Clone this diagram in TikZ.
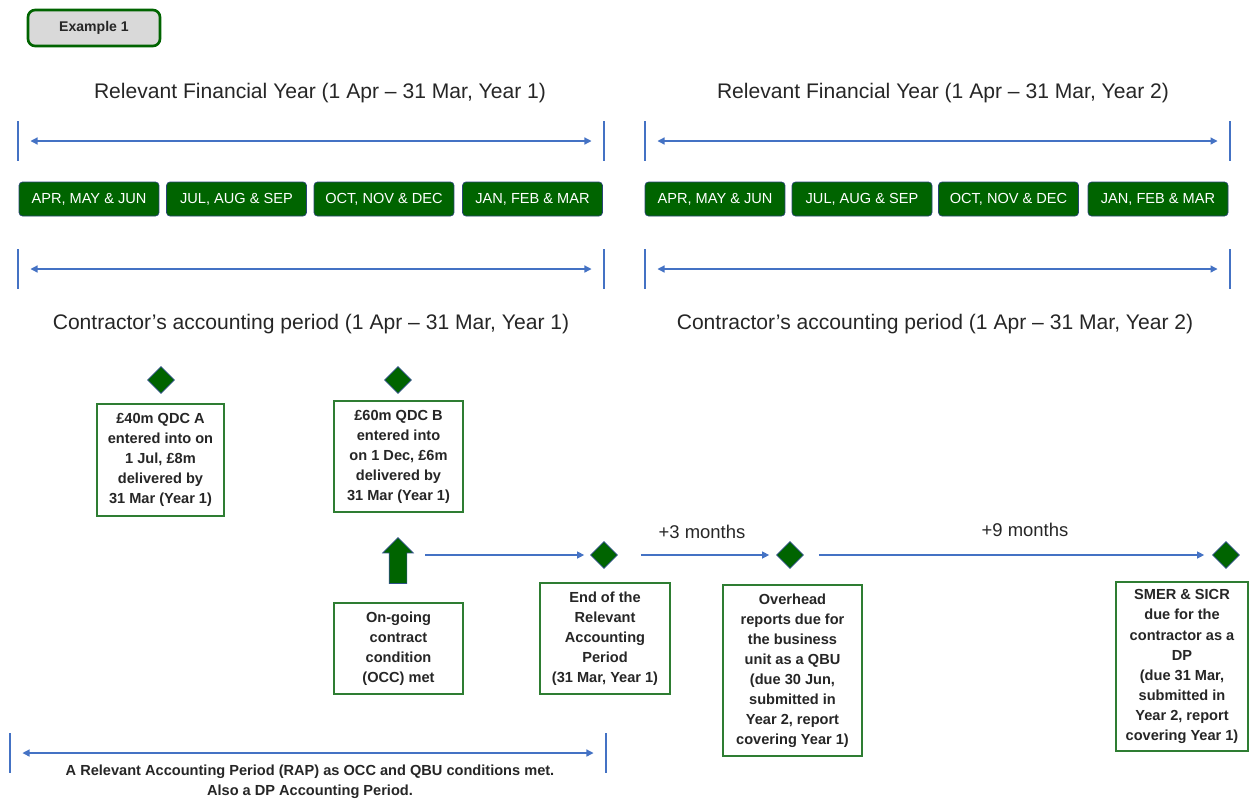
\documentclass[tikz,border=0pt]{standalone}
\usepackage{fontspec}
\setmainfont{Liberation Sans}
\usetikzlibrary{shapes.geometric,shapes.arrows,arrows.meta}

\definecolor{qdgreen}{RGB}{0,100,0}
\definecolor{edgegreen}{RGB}{46,125,50}
\definecolor{lineblue}{RGB}{68,114,196}
\definecolor{textgrey}{RGB}{38,38,38}
\definecolor{tabgrey}{RGB}{217,217,217}

\tikzset{
  heading/.style={text=textgrey, font=\fontsize{12}{14}\selectfont},
  monthbox/.style={draw=lineblue!60!black, fill=qdgreen, rounded corners=2pt, text=white, minimum width=2.8cm, minimum height=0.68cm, inner sep=0pt, font=\fontsize{8.3}{9}\selectfont},
  bar/.style={fill=lineblue, inner sep=0pt, minimum width=1.3pt, minimum height=0.8cm},
  span/.style={lineblue, line width=0.7pt, <->, >={Triangle[length=4pt,width=4pt]}, shorten <=0.22cm, shorten >=0.22cm},
  tline/.style={lineblue, line width=0.7pt, ->, >={Triangle[length=4pt,width=4pt]}},
  milestone/.style={diamond, draw=lineblue!70!black, fill=qdgreen, minimum width=0.54cm, minimum height=0.54cm, inner sep=0pt},
  notebox/.style={draw=edgegreen, line width=1.2pt, fill=white, align=center, text=textgrey, inner sep=2pt, font=\bfseries\fontsize{8.3}{11.4}\selectfont}
}

\begin{document}
\begin{tikzpicture}[x=0.02cm, y=-0.02cm]
    \useasboundingbox (0,0) rectangle (1250,802);

    \node (example) at (94,28) [draw=qdgreen, line width=1.5pt, fill=tabgrey, rounded corners=4pt, minimum width=2.64cm, minimum height=0.72cm, font=\bfseries\fontsize{8}{9}\selectfont, text=textgrey] {Example 1};

    % financial years
    \node (fy1) at (320,93) [heading] {Relevant Financial Year (1 Apr – 31 Mar, Year 1)};
    \node (fy2) at (943,93) [heading] {Relevant Financial Year (1 Apr – 31 Mar, Year 2)};

    \node (fy1l) at (18,141) [bar] {};
    \node (fy1r) at (604,141) [bar] {};
    \node (fy2l) at (645,141) [bar] {};
    \node (fy2r) at (1230,141) [bar] {};
    \draw [span] (fy1l) -- (fy1r);
    \draw [span] (fy2l) -- (fy2r);

    \node (q1a) at (89,199) [monthbox] {APR, MAY \& JUN};
    \node (q2a) at (236.5,199) [monthbox] {JUL, AUG \& SEP};
    \node (q3a) at (384,199) [monthbox] {OCT, NOV \& DEC};
    \node (q4a) at (532.5,199) [monthbox] {JAN, FEB \& MAR};
    \node (q1b) at (715,199) [monthbox] {APR, MAY \& JUN};
    \node (q2b) at (862,199) [monthbox] {JUL, AUG \& SEP};
    \node (q3b) at (1008.5,199) [monthbox] {OCT, NOV \& DEC};
    \node (q4b) at (1158,199) [monthbox] {JAN, FEB \& MAR};

    % accounting periods
    \node (ap1l) at (18,269) [bar] {};
    \node (ap1r) at (604,269) [bar] {};
    \node (ap2l) at (645,269) [bar] {};
    \node (ap2r) at (1230,269) [bar] {};
    \draw [span] (ap1l) -- (ap1r);
    \draw [span] (ap2l) -- (ap2r);

    \node (ap1) at (311,324) [heading] {Contractor’s accounting period (1 Apr – 31 Mar, Year 1)};
    \node (ap2) at (935,324) [heading] {Contractor’s accounting period (1 Apr – 31 Mar, Year 2)};

    % contracts
    \node (qdcA) at (161,380) [milestone] {};
    \node (qdcB) at (398,380) [milestone] {};
    \node (boxA) at (160.5,460) [notebox, minimum width=2.54cm, minimum height=2.24cm] {£40m QDC A\\entered into on\\1 Jul, £8m\\delivered by\\31 Mar (Year 1)};
    \node (boxB) at (398.5,456.5) [notebox, minimum width=2.58cm, minimum height=2.22cm] {£60m QDC B\\entered into\\on 1 Dec, £6m\\delivered by\\31 Mar (Year 1)};

    % timeline
    \node (occarrow) at (398,565) [single arrow, rotate=90, fill=qdgreen, draw=lineblue!70!black, minimum height=0.92cm, inner sep=0.17cm, single arrow head extend=0.13cm] {};
    \coordinate (occstart) at (425,555);
    \node (ramend) at (604,555) [milestone] {};
    \node (qbu) at (790,555) [milestone] {};
    \node (dp) at (1226,555) [milestone] {};

    \draw [tline, shorten >=0.12cm] (occstart) -- (ramend);
    \draw [tline, shorten <=0.46cm, shorten >=0.14cm] (ramend) -- (qbu);
    \draw [tline, shorten <=0.3cm, shorten >=0.16cm] (qbu) -- (dp);
    \node (plus3) at (702,532) [heading, font=\fontsize{10.5}{12}\selectfont] {+3 months};
    \node (plus9) at (1025,530) [heading, font=\fontsize{10.5}{12}\selectfont] {+9 months};

    \node (occ) at (398.5,648.5) [notebox, minimum width=2.58cm, minimum height=1.82cm] {On-going\\contract\\condition\\(OCC) met};
    \node (endbox) at (605,638.5) [notebox, minimum width=2.6cm, minimum height=2.22cm] {End of the\\Relevant\\Accounting\\Period\\(31 Mar, Year 1)};
    \node (overhead) at (792.5,670.5) [notebox, minimum width=2.78cm, minimum height=3.42cm] {Overhead\\reports due for\\the business\\unit as a QBU\\(due 30 Jun,\\submitted in\\Year 2, report\\covering Year 1)};
    \node (smer) at (1182,666.5) [notebox, minimum width=2.64cm, minimum height=3.38cm] {SMER \& SICR\\due for the\\contractor as a\\DP\\(due 31 Mar,\\submitted in\\Year 2, report\\covering Year 1)};

    % relevant accounting period
    \node (rapl) at (10,753) [bar] {};
    \node (rapr) at (606,753) [bar] {};
    \draw [span] (rapl) -- (rapr);
    \node (rapnote) at (310,782) [align=center, text=textgrey, font=\bfseries\fontsize{8.3}{11.4}\selectfont] {A Relevant Accounting Period (RAP) as OCC and QBU conditions met.\\Also a DP Accounting Period.};
\end{tikzpicture}
\end{document}
